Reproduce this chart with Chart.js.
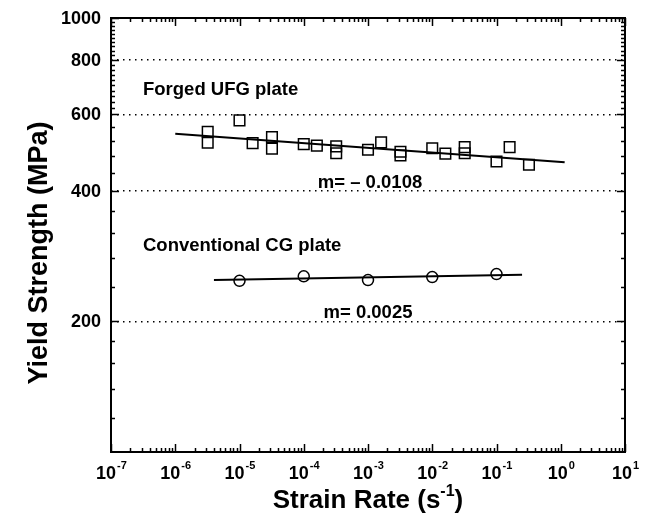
<!DOCTYPE html>
<html><head><meta charset="utf-8">
<script src="https://cdn.jsdelivr.net/npm/chart.js@4"></script>
<style>html,body{margin:0;padding:0;background:#fff}#wrap{width:646px;height:522px;position:relative}</style>
</head><body><div id="wrap"><canvas id="c"></canvas></div>
<script>
// ---- data ----
const ufgStrainRate = [3.2e-6,3.2e-6,1e-5,1.6e-5,3.2e-5,3.2e-5,1e-4,1.6e-4,3.2e-4,3.2e-4,1e-3,1.6e-3,3.2e-3,3.2e-3,1e-2,1.6e-2,3.2e-2,3.2e-2,1e-1,1.6e-1,3.2e-1];
const ufgYield      = [547,516,581,515,532,500,512,508,506,488,497,517,492,482,501,487,504,488,467,504,459];
const ufgFitX = [1e-6, 1.15];
const ufgFitY = [541, 465];
const cgStrainRate = [1e-5,1e-4,1e-3,1e-2,1e-1];
const cgYield      = [248,254,249,253,257];
const cgFitX = [4e-6, 0.25];
const cgFitY = [249, 256];
const yTickLabels = [200,400,600,800,1000];
const yGridValues = [200,400,600,800];
const yMinorTicks = [120,140,160,180,240,280,320,360,440,480,520,560,620,640,660,680,700,720,740,760,780,820,840,860,880,900,920,940,960,980];
const xDecades = [-7,-6,-5,-4,-3,-2,-1,0,1];
const labels = {ufg:'Forged UFG plate', ufgSlope:'m= \u2013 0.0108', cg:'Conventional CG plate', cgSlope:'m= 0.0025',
                xTitle:'Strain Rate (s', yTitle:'Yield Strength (MPa)'};

const F = '"Liberation Sans", Arial, sans-serif';
const pts = (xs, ys) => xs.map((x,i)=>({x, y:ys[i]}));

const decor = {
  id:'decor',
  afterDraw(chart){
    const {ctx, chartArea:a, scales:{x,y}} = chart;
    ctx.save();
    ctx.strokeStyle='#000'; ctx.fillStyle='#000';
    const seg=(x1,y1,x2,y2)=>{ctx.beginPath();ctx.moveTo(x1,y1);ctx.lineTo(x2,y2);ctx.stroke();};
    ctx.lineWidth=1.5;
    // x ticks (bottom & top, inward)
    for (const e of xDecades){
      for (let k=1;k<=9;k++){
        const v=k*Math.pow(10,e);
        if (v>10.0001) break;
        const px=Math.round(x.getPixelForValue(v))+0.5;
        const len=k===1?8:4;
        seg(px,a.bottom,px,a.bottom-len); seg(px,a.top,px,a.top+len);
      }
    }
    // y ticks (left & right, inward)
    for (const v of yTickLabels.concat(yMinorTicks)){
      const py=Math.round(y.getPixelForValue(v))+0.5;
      const len=yTickLabels.includes(v)?8:4;
      seg(a.left,py,a.left+len,py); seg(a.right,py,a.right-len,py);
    }
    // frame
    ctx.lineWidth=2;
    ctx.strokeRect(a.left,a.top,a.right-a.left,a.bottom-a.top);
    // y tick labels
    ctx.font='bold 18px '+F; ctx.textAlign='right'; ctx.textBaseline='middle';
    for (const v of yTickLabels) ctx.fillText(String(v), a.left-10, y.getPixelForValue(v)+1);
    // x tick labels with superscript exponents
    for (const e of xDecades){
      const px=x.getPixelForValue(Math.pow(10,e));
      ctx.font='bold 18px '+F; const wb=ctx.measureText('10').width;
      const ex=String(e);
      ctx.font='bold 11px '+F; const we=ctx.measureText(ex).width;
      const x0=px-(wb+we)/2;
      ctx.textAlign='left'; ctx.textBaseline='alphabetic';
      ctx.font='bold 18px '+F; ctx.fillText('10',x0,a.bottom+27);
      ctx.font='bold 11px '+F; ctx.fillText(ex,x0+wb+1,a.bottom+17);
    }
    // annotations
    ctx.font='bold 18.5px '+F; ctx.textAlign='left'; ctx.textBaseline='alphabetic';
    ctx.fillText(labels.ufg, a.left+32, 95);
    ctx.fillText(labels.cg, a.left+32, 251);
    ctx.textAlign='center';
    ctx.fillText(labels.ufgSlope, 370, 188);
    ctx.fillText(labels.cgSlope, 368, 318);
    // axis titles
    ctx.font='bold 26px '+F; ctx.textAlign='left';
    const t1=labels.xTitle; const w1=ctx.measureText(t1).width;
    ctx.font='bold 16px '+F; const w2=ctx.measureText('-1').width;
    ctx.font='bold 26px '+F; const w3=ctx.measureText(')').width;
    let xs=(a.left+a.right)/2-(w1+w2+w3)/2;
    ctx.fillText(t1,xs,508);
    ctx.font='bold 16px '+F; ctx.fillText('-1',xs+w1,496);
    ctx.font='bold 26px '+F; ctx.fillText(')',xs+w1+w2,508);
    ctx.font='bold 27px '+F;
    ctx.save(); ctx.translate(47,253); ctx.rotate(-Math.PI/2);
    ctx.textAlign='center'; ctx.fillText(labels.yTitle,0,0); ctx.restore();
    ctx.restore();
  }
};

new Chart(document.getElementById('c'), {
  type:'scatter',
  data:{datasets:[
    {label:labels.ufg, data:pts(ufgStrainRate,ufgYield), pointStyle:'rect', pointRadius:7.5, borderColor:'#000', borderWidth:1.5, backgroundColor:'rgba(0,0,0,0)'},
    {label:'UFG fit', data:pts(ufgFitX,ufgFitY), showLine:true, pointRadius:0, borderColor:'#000', borderWidth:2},
    {label:labels.cg, data:pts(cgStrainRate,cgYield), pointStyle:'circle', pointRadius:5.5, borderColor:'#000', borderWidth:1.5, backgroundColor:'rgba(0,0,0,0)'},
    {label:'CG fit', data:pts(cgFitX,cgFitY), showLine:true, pointRadius:0, borderColor:'#000', borderWidth:2}
  ]},
  options:{
    responsive:true, maintainAspectRatio:false, animation:false, devicePixelRatio:1,
    layout:{padding:{top:18,right:21,left:0,bottom:0}},
    plugins:{legend:{display:false}, tooltip:{enabled:false}},
    scales:{
      x:{type:'logarithmic', min:1e-7, max:10, grid:{display:false}, border:{display:false}, ticks:{display:false}, afterFit(s){s.height=70;}},
      y:{type:'logarithmic', min:100, max:1000,
         afterBuildTicks(s){s.ticks=yGridValues.map(v=>({value:v}));},
         grid:{color:'#000', lineWidth:1.5, drawTicks:false}, border:{display:false, dash:[1.5,4.5]},
         ticks:{display:false}, afterFit(s){s.width=111;}}
    }
  },
  plugins:[decor]
});
</script></body></html>
